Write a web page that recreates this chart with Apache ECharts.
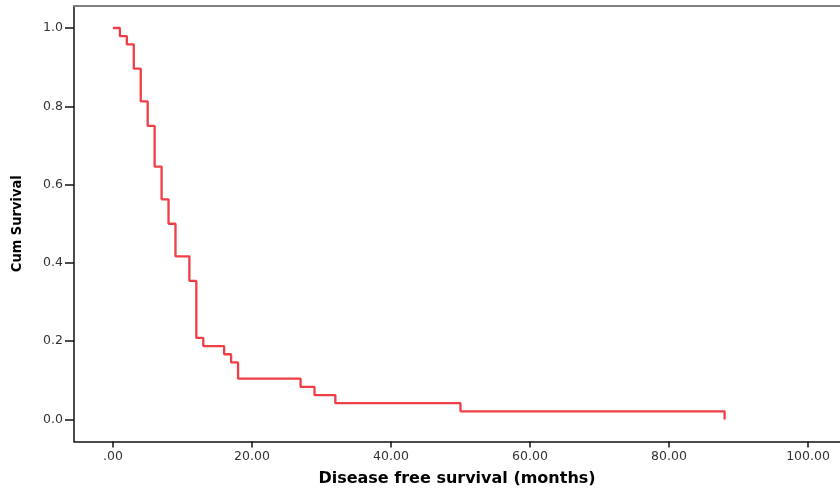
<!DOCTYPE html>
<html>
<head>
<meta charset="utf-8">
<script src="https://cdn.jsdelivr.net/npm/echarts@6/dist/echarts.min.js"></script>
<style>html,body{margin:0;padding:0;background:#fff}#c{width:840px;height:490px}</style>
</head>
<body>
<div id="c"></div>
<script>
// Kaplan-Meier step data (months, cumulative survival)
const times = [0, 1, 2, 3, 4, 5, 6, 7, 8, 9, 11, 12, 13, 16, 17, 18, 27, 29, 32, 50, 88];
const survival = [1.0, 0.979, 0.958, 0.896, 0.8125, 0.75, 0.646, 0.5625, 0.5, 0.4167, 0.354, 0.2083, 0.1875, 0.1667, 0.1458, 0.1042, 0.0833, 0.0625, 0.0417, 0.0208, 0.0];
const xTickValues = [0, 20, 40, 60, 80, 100];
const yTickValues = [0, 0.2, 0.4, 0.6, 0.8, 1.0];
const xTitle = 'Disease free survival (months)';
const yTitle = 'Cum Survival';

const chart = echarts.init(document.getElementById('c'), null, {renderer: 'canvas'});
const pts = times.map((t, i) => [t, survival[i]]);
chart.setOption({
  animation: false,
  backgroundColor: '#fff',
  grid: {left: 74, top: 6, right: 0, bottom: 48.5, containLabel: false, outerBoundsMode: 'none'},
  xAxis: [{
    type: 'value', min: -5.6, max: 104.6,
    axisLine: {show: true, onZero: false, lineStyle: {color: '#111', width: 1.5}},
    axisTick: {show: true, customValues: xTickValues, length: 6, lineStyle: {color: '#111', width: 1.5}},
    axisLabel: {customValues: xTickValues, color: '#333', fontFamily: 'DejaVu Sans', fontSize: 12.5, margin: 9,
      formatter: v => v === 0 ? '.00' : v.toFixed(2)},
    splitLine: {show: false},
    name: xTitle, nameLocation: 'middle', nameGap: 29,
    nameTextStyle: {fontFamily: 'DejaVu Sans', fontWeight: 'bold', fontSize: 16, color: '#000'}
  }, {
    type: 'value', position: 'top', min: -5.6, max: 104.6,
    axisLine: {show: true, onZero: false, lineStyle: {color: '#808080', width: 2}},
    axisTick: {show: false}, axisLabel: {show: false}, splitLine: {show: false}
  }],
  yAxis: {
    type: 'value', min: -0.0562, max: 1.0562,
    axisLine: {show: true, onZero: false, lineStyle: {color: '#111', width: 1.5}},
    axisTick: {show: true, customValues: yTickValues, length: 9, lineStyle: {color: '#111', width: 1.5}},
    axisLabel: {customValues: yTickValues, color: '#333', fontFamily: 'DejaVu Sans', fontSize: 12.5, margin: 11,
      formatter: v => v.toFixed(1)},
    splitLine: {show: false},
    name: yTitle, nameLocation: 'middle', nameGap: 49, nameRotate: 90,
    nameTextStyle: {fontFamily: 'DejaVu Sans Condensed', fontWeight: 'bold', fontSize: 14.5, color: '#000'}
  },
  series: [{
    type: 'line', step: 'end', data: pts, xAxisIndex: 0,
    showSymbol: false, symbol: 'none',
    lineStyle: {color: '#ef3e45', width: 2.3}
  }]
});
</script>
</body>
</html>
